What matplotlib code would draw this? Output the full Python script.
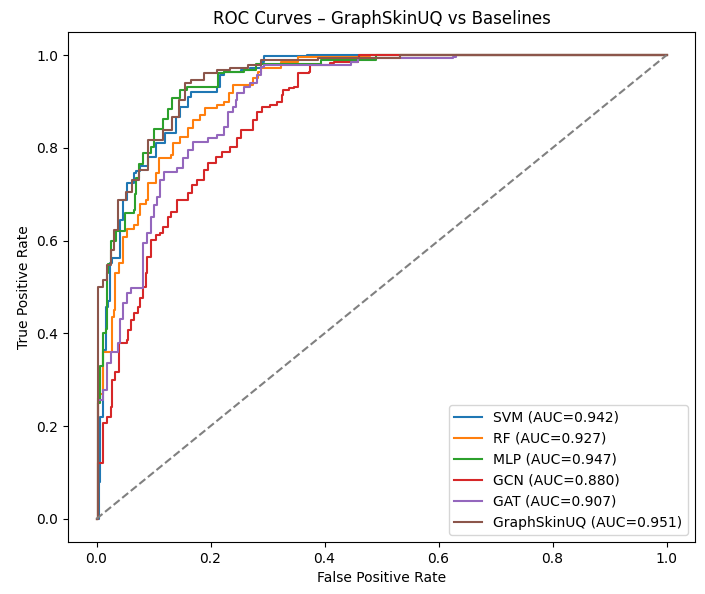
import matplotlib
matplotlib.use("Agg")
import matplotlib.pyplot as plt

# ROC curve vertices (fpr, tpr)
svm_fpr = [0, 0.004, 0.007, 0.012, 0.016, 0.021, 0.023, 0.028, 0.042, 0.046, 0.053, 0.054, 0.065,
           0.07, 0.077, 0.091, 0.105, 0.12, 0.14, 0.147, 0.16, 0.165, 0.195, 0.212, 0.217, 0.223,
           0.253, 0.27, 0.288, 0.293, 0.37, 1.0]
svm_tpr = [0, 0.08, 0.22, 0.364, 0.457, 0.47, 0.552, 0.562, 0.645, 0.687, 0.70, 0.724, 0.745,
           0.75, 0.76, 0.78, 0.81, 0.832, 0.866, 0.888, 0.909, 0.92, 0.92, 0.931, 0.957, 0.963,
           0.968, 0.972, 0.985, 0.998, 1.0, 1.0]

rf_fpr = [0, 0.002, 0.007, 0.012, 0.028, 0.03, 0.033, 0.039, 0.047, 0.054, 0.065, 0.072, 0.077,
          0.086, 0.091, 0.104, 0.109, 0.13, 0.135, 0.147, 0.16, 0.17, 0.182, 0.191, 0.212, 0.223,
          0.232, 0.24, 0.258, 0.275, 0.284, 0.288, 0.319, 0.323, 0.353, 0.46, 0.48, 1.0]
rf_tpr = [0, 0.26, 0.27, 0.36, 0.435, 0.45, 0.53, 0.552, 0.607, 0.625, 0.633, 0.655, 0.68,
          0.687, 0.724, 0.746, 0.778, 0.784, 0.81, 0.823, 0.843, 0.86, 0.871, 0.886, 0.892, 0.899,
          0.918, 0.935, 0.935, 0.95, 0.963, 0.972, 0.972, 0.985, 0.996, 0.998, 1.0, 1.0]

mlp_fpr = [0, 0.002, 0.007, 0.011, 0.016, 0.018, 0.021, 0.026, 0.035, 0.05, 0.065, 0.068, 0.07,
           0.075, 0.082, 0.095, 0.1, 0.116, 0.125, 0.133, 0.147, 0.159, 0.212, 0.214, 0.223,
           0.258, 0.28, 0.393, 0.49, 1.0]
mlp_tpr = [0, 0.25, 0.33, 0.40, 0.41, 0.53, 0.55, 0.60, 0.62, 0.66, 0.665, 0.70, 0.735,
           0.765, 0.79, 0.803, 0.84, 0.862, 0.883, 0.908, 0.925, 0.931, 0.931, 0.961, 0.964,
           0.968, 0.98, 0.989, 1.0, 1.0]

gcn_fpr = [0, 0.003, 0.012, 0.019, 0.025, 0.028, 0.033, 0.039, 0.054, 0.056, 0.060, 0.065, 0.072,
           0.077, 0.082, 0.086, 0.089, 0.095, 0.104, 0.112, 0.116, 0.125, 0.13, 0.142, 0.16,
           0.168, 0.177, 0.188, 0.196, 0.209, 0.221, 0.235, 0.247, 0.253, 0.27, 0.275, 0.282,
           0.291, 0.305, 0.317, 0.326, 0.328, 0.337, 0.346, 0.354, 0.372, 0.375, 0.41, 0.416,
           0.458, 0.46, 1.0]
gcn_tpr = [0, 0.12, 0.207, 0.22, 0.241, 0.30, 0.317, 0.379, 0.386, 0.407, 0.429, 0.444, 0.457,
           0.476, 0.50, 0.53, 0.565, 0.601, 0.612, 0.616, 0.629, 0.651, 0.662, 0.687, 0.703,
           0.72, 0.73, 0.752, 0.767, 0.78, 0.791, 0.802, 0.821, 0.838, 0.838, 0.86, 0.877,
           0.888, 0.892, 0.899, 0.914, 0.925, 0.929, 0.931, 0.961, 0.963, 0.978, 0.983, 0.985,
           0.994, 1.0, 1.0]

gat_fpr = [0, 0.003, 0.012, 0.019, 0.025, 0.037, 0.042, 0.047, 0.054, 0.060, 0.074, 0.081, 0.082,
           0.089, 0.095, 0.10, 0.107, 0.112, 0.118, 0.142, 0.151, 0.16, 0.17, 0.195, 0.212,
           0.223, 0.23, 0.239, 0.244, 0.247, 0.258, 0.27, 0.282, 0.288, 0.293, 0.446, 0.458,
           0.626, 0.63, 1.0]
gat_tpr = [0, 0.256, 0.278, 0.336, 0.36, 0.38, 0.43, 0.465, 0.487, 0.498, 0.498, 0.53, 0.595,
           0.616, 0.651, 0.677, 0.694, 0.73, 0.748, 0.756, 0.778, 0.795, 0.812, 0.821, 0.828,
           0.845, 0.877, 0.888, 0.903, 0.918, 0.931, 0.94, 0.957, 0.974, 0.978, 0.985, 0.994,
           0.996, 1.0, 1.0]

gsu_fpr = [0, 0.002, 0.012, 0.018, 0.025, 0.030, 0.037, 0.051, 0.063, 0.074, 0.091, 0.116, 0.133,
           0.144, 0.156, 0.165, 0.188, 0.212, 0.235, 0.265, 0.288, 0.388, 0.533, 1.0]
gsu_tpr = [0, 0.50, 0.515, 0.547, 0.58, 0.623, 0.687, 0.705, 0.73, 0.752, 0.817, 0.838, 0.866,
           0.903, 0.94, 0.946, 0.961, 0.968, 0.972, 0.978, 0.989, 0.994, 1.0, 1.0]

names = ['SVM', 'RF', 'MLP', 'GCN', 'GAT', 'GraphSkinUQ']
aucs = [0.942, 0.927, 0.947, 0.880, 0.907, 0.951]
curves = [(svm_fpr, svm_tpr), (rf_fpr, rf_tpr), (mlp_fpr, mlp_tpr),
          (gcn_fpr, gcn_tpr), (gat_fpr, gat_tpr), (gsu_fpr, gsu_tpr)]

fig = plt.figure(figsize=(7.05, 5.94), dpi=100)
ax = fig.add_axes([68 / 705, 1 - 542 / 594, (695 - 68) / 705, (542 - 32) / 594])

for name, auc, (fpr, tpr) in zip(names, aucs, curves):
    ax.plot(fpr, tpr, drawstyle='steps-post', label=f"{name} (AUC={auc:.3f})")

ax.plot([0, 1], [0, 1], linestyle='--', color='gray')

ax.set_title("ROC Curves – GraphSkinUQ vs Baselines")
ax.set_xlabel("False Positive Rate")
ax.set_ylabel("True Positive Rate")
ax.legend(loc='lower right')

fig.savefig("out.png", dpi=100)
